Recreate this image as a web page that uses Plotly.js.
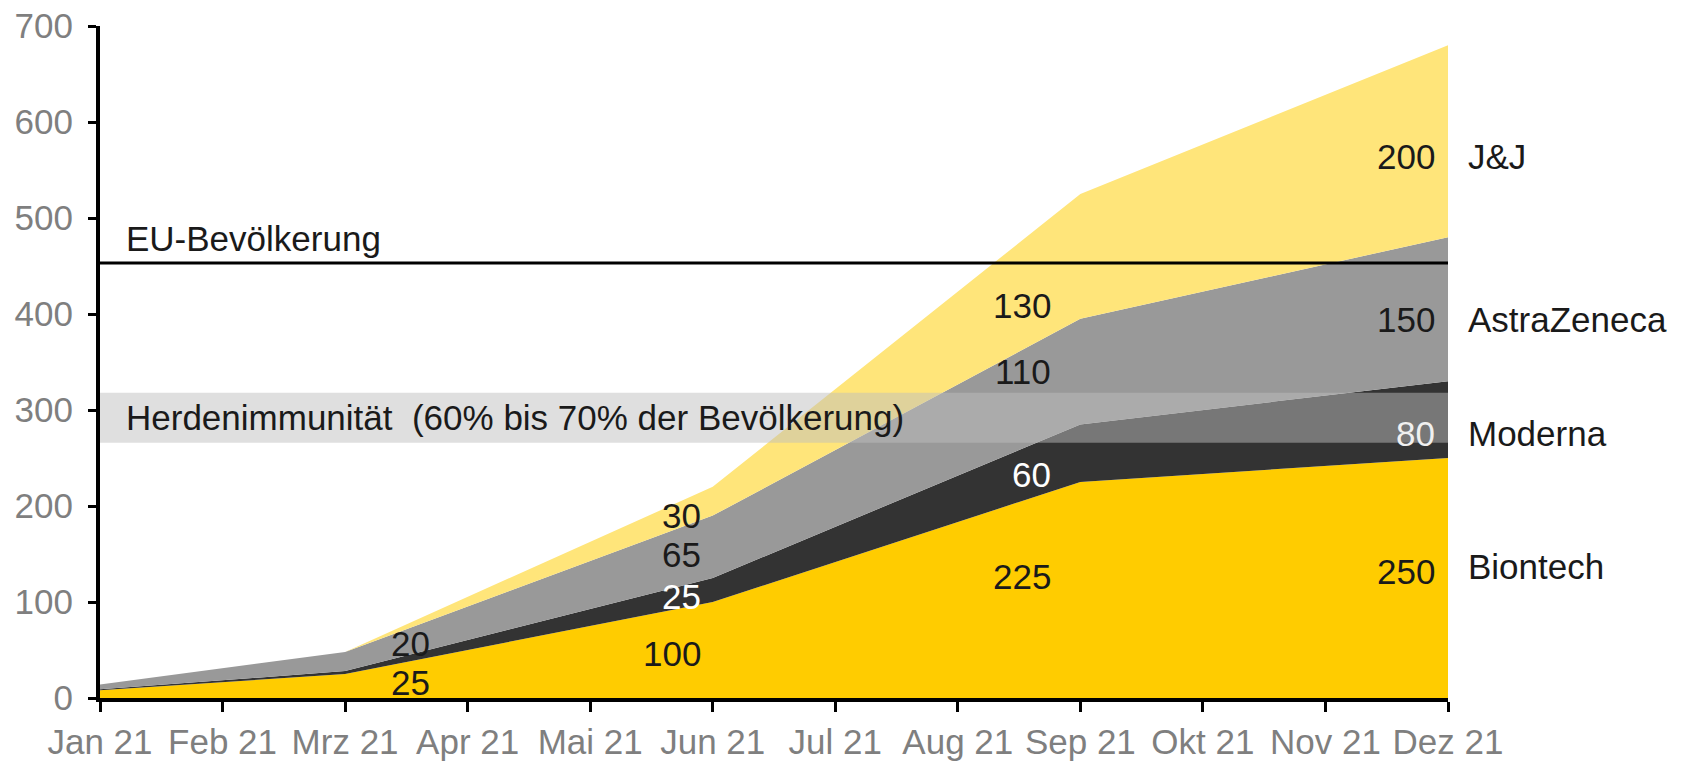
<!DOCTYPE html>
<html>
<head>
<meta charset="utf-8">
<script src="https://cdn.plot.ly/plotly-3.0.1.min.js"></script>
<style>
  html, body { margin: 0; padding: 0; background: #ffffff; }
  #chart { width: 1681px; height: 761px; }
</style>
</head>
<body>
<div id="chart"></div>
<script>
// ---- Data ----
var months = ['Jan 21', 'Feb 21', 'Mrz 21', 'Apr 21', 'Mai 21', 'Jun 21',
              'Jul 21', 'Aug 21', 'Sep 21', 'Okt 21', 'Nov 21', 'Dez 21'];
var xPoints = ['Jan 21', 'Mrz 21', 'Jun 21', 'Sep 21', 'Dez 21'];

var biontech    = [8, 25, 100, 225, 250];
var moderna     = [1, 3, 25, 60, 80];
var astrazeneca = [5, 20, 65, 110, 150];
var jj          = [0, 0, 30, 130, 200];

var seriesNames = ['Biontech', 'Moderna', 'AstraZeneca', 'J&J'];

var euPopulation = 453;
var herdLow = 266;
var herdHigh = 318;

var euLabel = 'EU-Bevölkerung';
var herdLabel = 'Herdenimmunität  (60% bis 70% der Bevölkerung)';

// ---- Styles ----
var FONT = 'Liberation Sans, Arial, sans-serif';
var FS = 35;
var colors = {
  'Biontech': '#FFCC00',
  'Moderna': '#333333',
  'AstraZeneca': '#999999',
  'J&J': '#FFE57A'
};
var seriesData = {
  'Biontech': biontech,
  'Moderna': moderna,
  'AstraZeneca': astrazeneca,
  'J&J': jj
};

var traces = seriesNames.map(function (name) {
  return {
    type: 'scatter',
    mode: 'none',
    name: name,
    x: xPoints,
    y: seriesData[name],
    stackgroup: 'one',
    fill: 'tonexty',
    fillcolor: colors[name],
    line: { width: 0 },
    hoverinfo: 'skip'
  };
});

// value labels: [series, point index, label y (data units), xshift px, text color]
var valueLabelSpec = [
  ['Biontech', 1, 16, 87, '#1a1a1a'],
  ['AstraZeneca', 1, 57, 87, '#1a1a1a'],
  ['Biontech', 2, 46, -10, '#1a1a1a'],
  ['Moderna', 2, 106, -10, '#ffffff'],
  ['AstraZeneca', 2, 149, -10, '#1a1a1a'],
  ['J&J', 2, 190, -10, '#1a1a1a'],
  ['Biontech', 3, 127, -27, '#1a1a1a'],
  ['Moderna', 3, 233, -27, '#ffffff'],
  ['AstraZeneca', 3, 340, -27, '#1a1a1a'],
  ['J&J', 3, 409, -27, '#1a1a1a'],
  ['Biontech', 4, 132, -11, '#1a1a1a'],
  ['Moderna', 4, 276, -11, '#f0f0f0'],
  ['AstraZeneca', 4, 394, -11, '#1a1a1a'],
  ['J&J', 4, 564, -11, '#1a1a1a']
];
// series name labels at right edge: [series, y]
var nameLabelSpec = [
  ['J&J', 564],
  ['AstraZeneca', 394],
  ['Moderna', 276],
  ['Biontech', 137]
];

var annotations = [];
valueLabelSpec.forEach(function (s) {
  annotations.push({
    x: xPoints[s[1]], y: s[2], xref: 'x', yref: 'y',
    text: String(seriesData[s[0]][s[1]]),
    showarrow: false, xanchor: 'right', yanchor: 'middle', xshift: s[3],
    font: { family: FONT, size: FS, color: s[4] }
  });
});
nameLabelSpec.forEach(function (s) {
  annotations.push({
    x: 1, y: s[1], xref: 'paper', yref: 'y',
    text: s[0], showarrow: false, xanchor: 'left', yanchor: 'middle', xshift: 18,
    font: { family: FONT, size: FS, color: '#1a1a1a' }
  });
});
annotations.push({
  x: 0, y: euPopulation, xref: 'paper', yref: 'y', text: euLabel,
  showarrow: false, xanchor: 'left', yanchor: 'bottom', xshift: 24, yshift: 3,
  font: { family: FONT, size: FS, color: '#1a1a1a' }
});
annotations.push({
  x: 0, y: (herdLow + herdHigh) / 2, xref: 'paper', yref: 'y', text: herdLabel,
  showarrow: false, xanchor: 'left', yanchor: 'middle', xshift: 24,
  font: { family: FONT, size: FS, color: '#1a1a1a' }
});

var layout = {
  width: 1681, height: 761,
  margin: { l: 100, r: 233, t: 26, b: 63 },
  paper_bgcolor: '#ffffff', plot_bgcolor: '#ffffff',
  showlegend: false,
  font: { family: FONT, size: FS, color: '#7f7f7f' },
  xaxis: {
    type: 'category', categoryorder: 'array', categoryarray: months,
    range: [0, 11], showgrid: false, zeroline: false,
    showline: true, linecolor: '#000000', linewidth: 4,
    ticks: 'outside', ticklen: 10, tickwidth: 3, tickcolor: '#000000',
    tickfont: { family: FONT, size: FS, color: '#7f7f7f' },
    fixedrange: true
  },
  yaxis: {
    range: [0, 700], dtick: 100, tick0: 0, showgrid: false, zeroline: false,
    showline: true, linecolor: '#000000', linewidth: 4,
    ticks: 'outside', ticklen: 8, tickwidth: 3, tickcolor: '#000000',
    ticklabelstandoff: 8,
    tickfont: { family: FONT, size: FS, color: '#7f7f7f' },
    fixedrange: true
  },
  shapes: [
    {
      type: 'rect', xref: 'paper', yref: 'y', x0: 0, x1: 1, y0: herdLow, y1: herdHigh,
      fillcolor: 'rgba(190,190,190,0.49)', line: { width: 0 }, layer: 'above'
    },
    {
      type: 'line', xref: 'paper', yref: 'y', x0: 0, x1: 1, y0: euPopulation, y1: euPopulation,
      line: { color: '#000000', width: 3 }, layer: 'above'
    }
  ],
  annotations: annotations
};

Plotly.newPlot('chart', traces, layout, { displayModeBar: false, staticPlot: true });
</script>
</body>
</html>
